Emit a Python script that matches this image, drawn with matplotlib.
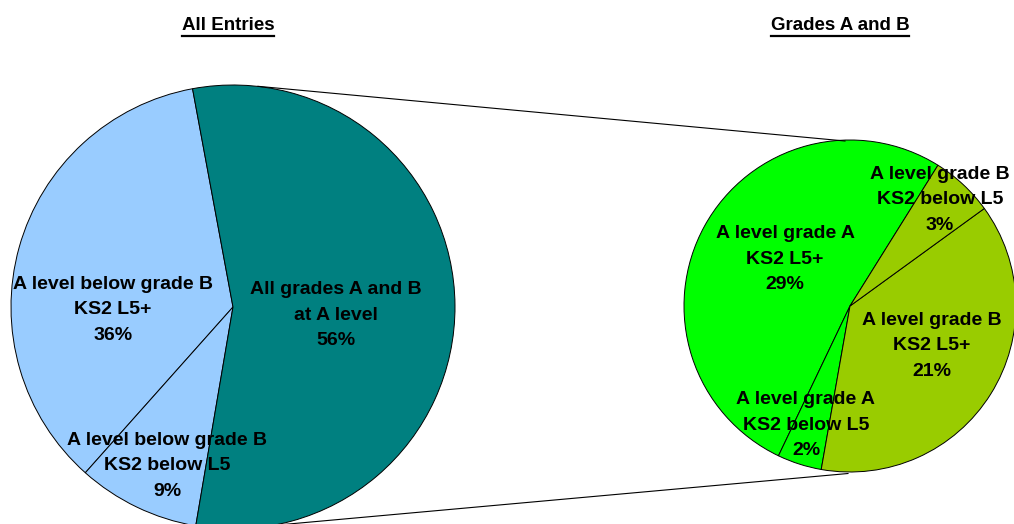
import matplotlib.pyplot as plt
from matplotlib.lines import Line2D

# data
all_labels = ["A level below grade B\nKS2 L5+", "A level below grade B\nKS2 below L5",
              "All grades A and B\nat A level"]
all_values = [35.5, 8.9, 55.6]
all_pct = ["36%", "9%", "56%"]
all_colors = ["#99CCFF", "#99CCFF", "#008080"]

ab_labels = ["A level grade A\nKS2 L5+", "A level grade A\nKS2 below L5",
             "A level grade B\nKS2 L5+", "A level grade B\nKS2 below L5"]
ab_values = [28.8, 2.4, 21.0, 3.4]
ab_pct = ["29%", "2%", "21%", "3%"]
ab_colors = ["#00FF00", "#00FF00", "#99CC00", "#99CC00"]

W, H = 1014, 524
fig = plt.figure(figsize=(W / 100, H / 100), dpi=100)
ax = fig.add_axes([0, 0, 1, 1])

def py(y):
    # pixel row -> data y
    return H - y

font = dict(family=["Liberation Sans", "DejaVu Sans"], fontsize=14, fontweight="bold",
            ha="center", va="center", linespacing=1.62)
wp = dict(edgecolor="black", linewidth=0.7)

# left pie
ax.pie(all_values, colors=all_colors, startangle=100.5, counterclock=True,
       radius=222, center=(233, py(307)), wedgeprops=wp)
# right pie
ax.pie(ab_values, colors=ab_colors, startangle=58, counterclock=True,
       radius=166, center=(850, py(306)), wedgeprops=wp)

# connector lines
ax.add_line(Line2D([258, 845], [py(86.3), py(141)], color="black", lw=0.8))
ax.add_line(Line2D([250, 848], [py(527.5), py(473.5)], color="black", lw=0.8))

all_pos = [(113, 310), (167, 466), (336, 315)]
for lab, pct, (x, y) in zip(all_labels, all_pct, all_pos):
    ax.text(x, py(y), lab + "\n" + pct, **font)

ab_pos = [(785, 259), (806, 425), (932, 346), (940, 200)]
for lab, pct, (x, y) in zip(ab_labels, ab_pct, ab_pos):
    ax.text(x, py(y), lab + "\n" + pct, **font)

ax.set_xlim(0, W)
ax.set_ylim(0, H)
ax.set_aspect("equal")
ax.axis("off")

# titles with underline
titles = []
for txt, x in [("All Entries", 228), ("Grades A and B", 840)]:
    t = ax.text(x, py(25), txt, family=["Liberation Sans", "DejaVu Sans"],
                fontsize=13.5, fontweight="bold", ha="center", va="center")
    titles.append(t)
fig.canvas.draw()
r = fig.canvas.get_renderer()
for t in titles:
    bb = t.get_window_extent(r)
    ax.add_line(Line2D([bb.x0, bb.x1], [py(36), py(36)], color="black", lw=1.6))

fig.savefig("out.png", dpi=100)
